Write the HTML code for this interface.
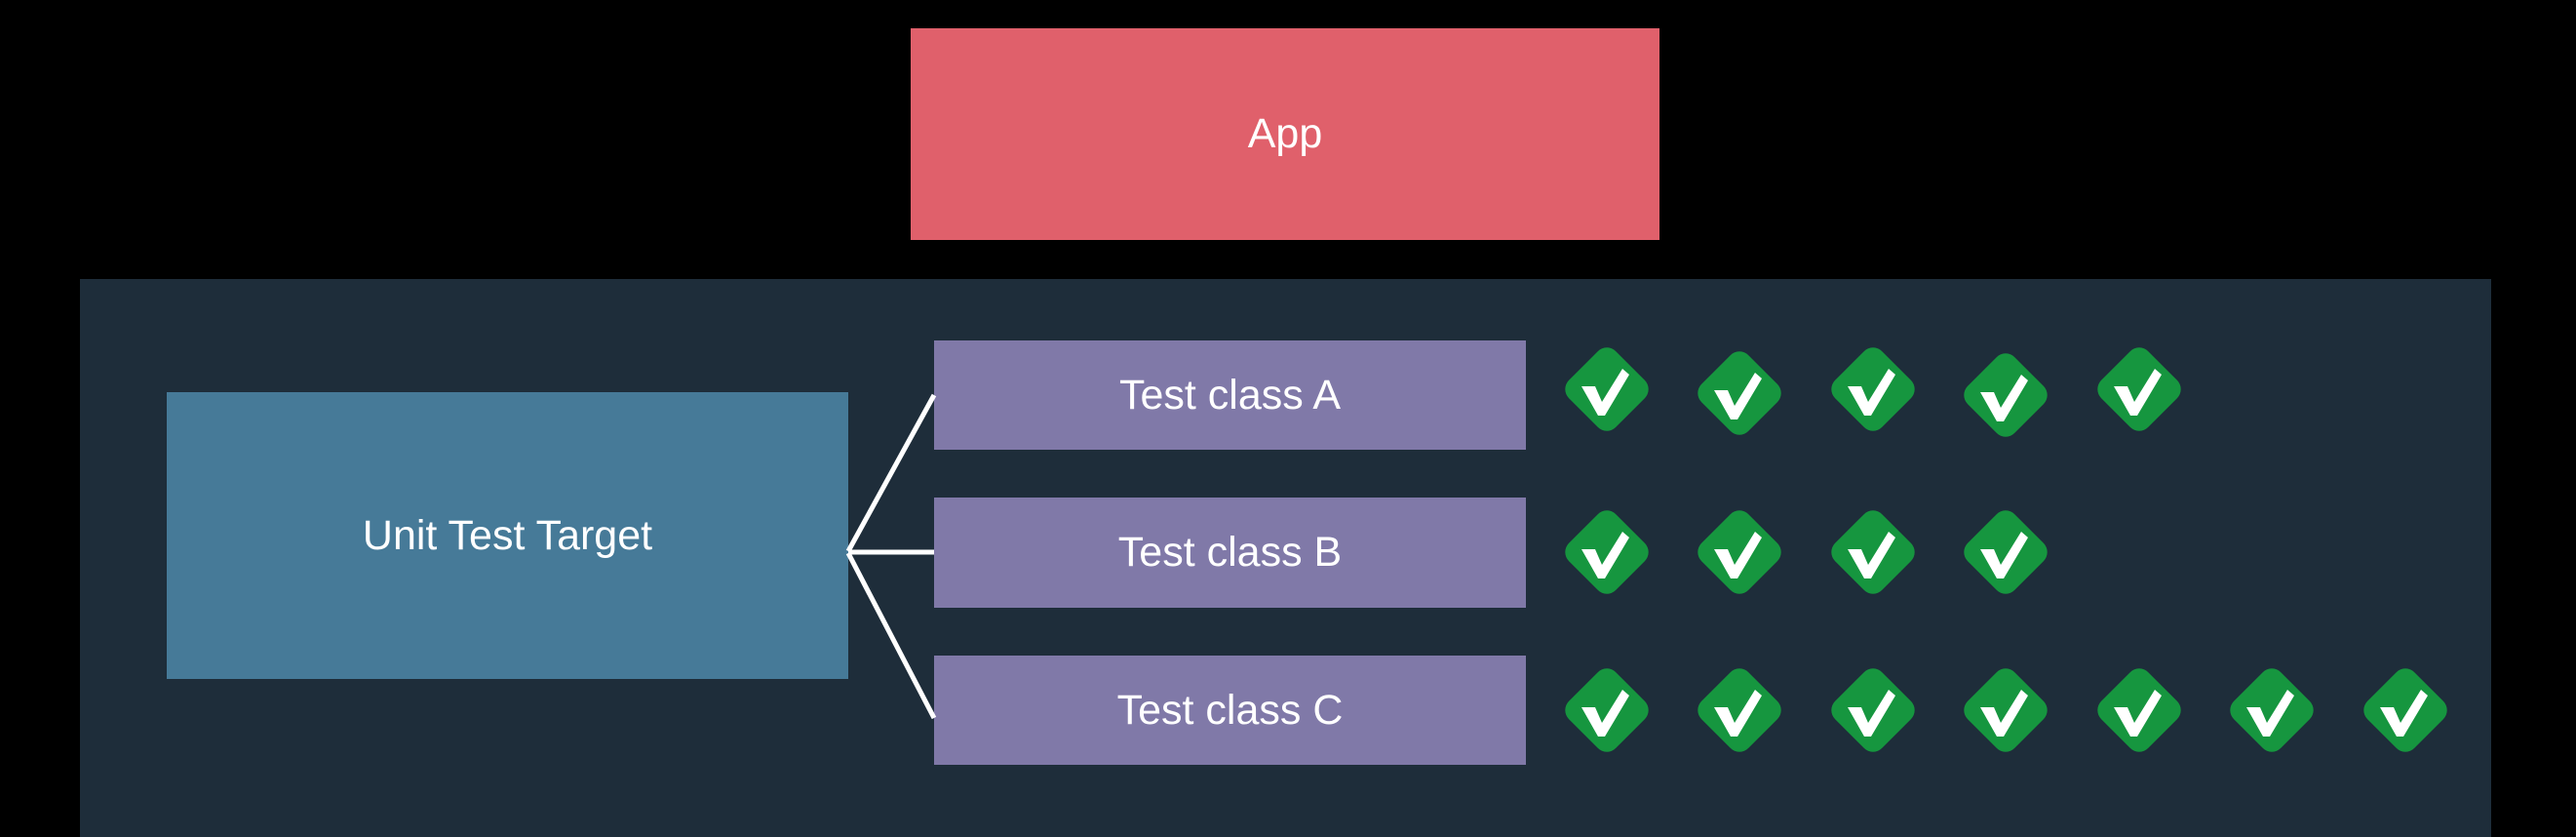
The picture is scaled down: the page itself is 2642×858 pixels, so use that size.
<!DOCTYPE html>
<html><head><meta charset="utf-8"><style>
html,body{margin:0;padding:0;background:#000;}
body{width:2642px;height:858px;position:relative;overflow:hidden;font-family:"Liberation Sans",sans-serif;}
.b{position:absolute;display:flex;align-items:center;justify-content:center;color:#fff;font-size:43px;}
</style></head><body>
<div class="b" style="left:934px;top:29px;width:768px;height:217px;background:#e0606b;">App</div>
<div style="position:absolute;left:82px;top:286px;width:2473px;height:572px;background:#1e2d3a;"></div>
<div class="b" style="left:171px;top:402px;width:699px;height:294px;background:#467a98;">Unit Test Target</div>
<div class="b" style="left:958px;top:349px;width:607px;height:112px;background:#8079a8;">Test class A</div>
<div class="b" style="left:958px;top:510px;width:607px;height:113px;background:#8079a8;">Test class B</div>
<div class="b" style="left:958px;top:672px;width:607px;height:112px;background:#8079a8;">Test class C</div>
<svg width="2642" height="858" style="position:absolute;left:0;top:0">
<defs>
<g id="ck">
<rect x="-34" y="-34" width="68" height="68" rx="13" fill="#16963f" transform="rotate(45)"/>
<path d="M-26,-3 L-12,-3 L-5,13 L16,-21 L23,-15 L-2,27 L-9,27 Z" fill="#fff"/>
</g>
</defs>
<g stroke="#fff" stroke-width="5" fill="none">
<line x1="870" y1="565" x2="958" y2="405"/>
<line x1="870" y1="566" x2="958" y2="566"/>
<line x1="870" y1="567" x2="958" y2="736"/>
</g>
<use href="#ck" x="1648" y="399"/><use href="#ck" x="1784" y="403"/><use href="#ck" x="1921" y="399"/><use href="#ck" x="2057" y="405"/><use href="#ck" x="2194" y="399"/>
<use href="#ck" x="1648" y="566"/><use href="#ck" x="1784" y="566"/><use href="#ck" x="1921" y="566"/><use href="#ck" x="2057" y="566"/>
<use href="#ck" x="1648" y="728"/><use href="#ck" x="1784" y="728"/><use href="#ck" x="1921" y="728"/><use href="#ck" x="2057" y="728"/><use href="#ck" x="2194" y="728"/><use href="#ck" x="2330" y="728"/><use href="#ck" x="2467" y="728"/>
</svg>
</body></html>
